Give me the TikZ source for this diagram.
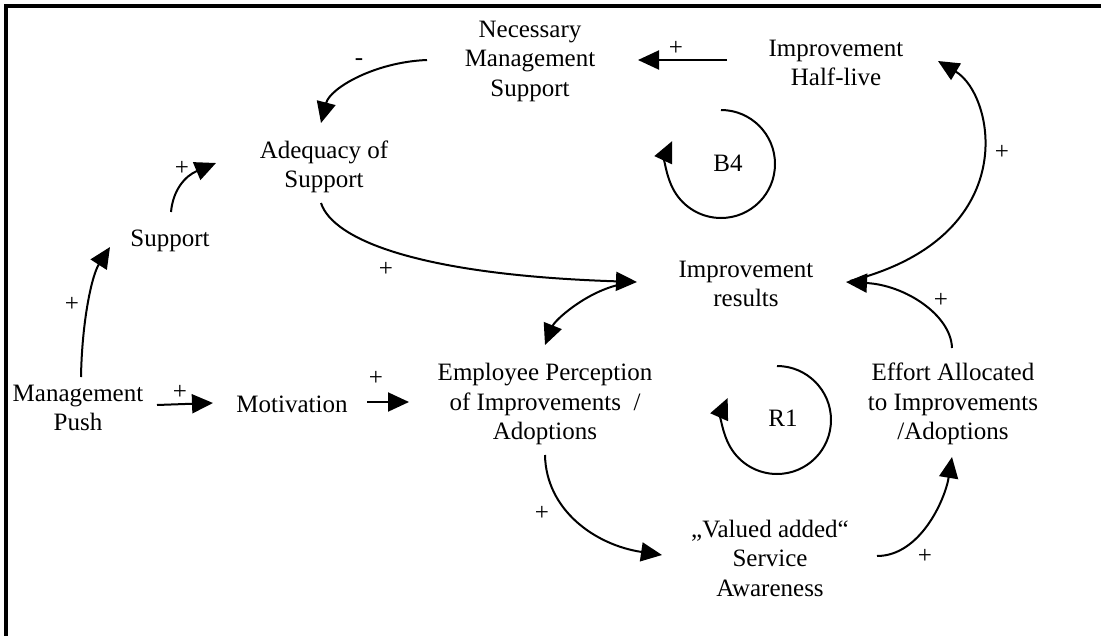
\documentclass[tikz,border=0pt]{standalone}
\usepackage{fontspec}
\setmainfont{Liberation Serif}
\usetikzlibrary{arrows.meta,calc}
\begin{document}
\begin{tikzpicture}[x=1pt,y=-1pt,
  every node/.style={inner sep=0pt, align=center, font=\fontsize{25}{29.5}\selectfont},
  var/.style={},
  lbl/.style={},
  link/.style={line width=2pt, -{Triangle[length=21pt,width=19pt]}},
  loopsym/.style={line width=2pt, -{Triangle[length=21pt,width=19pt]}},
]
\useasboundingbox (0,0) rectangle (1101,635);
% outer frame: only its top and left sides lie on the page
\begin{scope}
  \clip (0,0) rectangle (1101,635);
  \draw[line width=3.5pt] (6,660) -- (6,6) -- (1130,6);
\end{scope}

% variables
\node[var] (nms) at (530,61)  {Necessary\\Management\\Support};
\node[var] (ihl) at (836,63)  {Improvement\\Half-live};
\node[var] (adq) at (324,167) {Adequacy of\\Support};
\node[var] (sup) at (170,241) {Support};
\node[var] (mp)  at (78,408)  {Management\\Push};
\node[var] (mot) at (292,404) {Motivation};
\node[var] (emp) at (545,404) {Employee Perception\\of Improvements \ /\\Adoptions};
\node[var] (ir)  at (746,284) {Improvement\\results};
\node[var] (eff) at (953,404) {Effort Allocated\\to Improvements\\/Adoptions};
\node[var] (val) at (770,558) {„Valued added“\\Service\\Awareness};
\node[var] (b4)  at (728,163) {B4};
\node[var] (r1)  at (783,418) {R1};

% causal links
\draw[link] ($(nms)+(-103,-1)$) .. controls +(-52,2) and +(9,-35) .. ($(adq)+(-3,-44)$);
\draw[link] ($(ihl)+(-109,-3)$) -- ($(nms)+(108,-1)$);
\draw[link] ($(sup)+(1,-29)$) .. controls +(2,-22) and +(-31,13) .. ($(adq)+(-108,-4)$);
\draw[link] ($(mp)+(3,-31)$) .. controls +(1,-57) and +(-18,28) .. ($(sup)+(-60,6)$);
\draw[link] ($(adq)+(-3,36)$) .. controls +(12,37) and +(-217,-7) .. ($(ir)+(-109,-2)$);
\draw[link] ($(ir)+(-128,1)$) .. controls +(-33,8) and +(10,-25) .. ($(emp)+(0,-59)$);
\draw[link] ($(mp)+(79,-3)$) -- ($(mot)+(-79,-1)$);
\draw[link] ($(mot)+(75,-2)$) -- ($(emp)+(-136,-2)$);
\draw[link] ($(emp)+(0,51)$) .. controls +(1,55) and +(-67,-10) .. ($(val)+(-108,-3)$);
\draw[link] ($(val)+(107,-2)$) .. controls +(43,0) and +(-7,43) .. ($(eff)+(-1,53)$);
\draw[link] ($(eff)+(-1,-56)$) .. controls +(-1,-33) and +(59,3) .. ($(ir)+(100,-2)$);
\draw[link] ($(ir)+(104,-3)$) .. controls +(174,-44) and +(57,34) .. ($(ihl)+(102,-2)$);

% link polarities
\node[lbl] (p1)  at (359,62)  {-};
\node[lbl] (p2)  at (676,48)  {+};
\node[lbl] (p3)  at (182,168) {+};
\node[lbl] (p4)  at (72,304)  {+};
\node[lbl] (p5)  at (386,269) {+};
\node[lbl] (p7)  at (180,392) {+};
\node[lbl] (p8)  at (376,378) {+};
\node[lbl] (p9)  at (542,513) {+};
\node[lbl] (p10) at (925,556) {+};
\node[lbl] (p11) at (941,300) {+};
\node[lbl] (p12) at (1002,152) {+};

% loop markers
\draw[loopsym] ($(b4)+(-7,-53)$) arc[start angle=-90, end angle=205, radius=54];
\draw[loopsym] ($(r1)+(-6,-52)$) arc[start angle=-90, end angle=204, radius=54];
\end{tikzpicture}
\end{document}
